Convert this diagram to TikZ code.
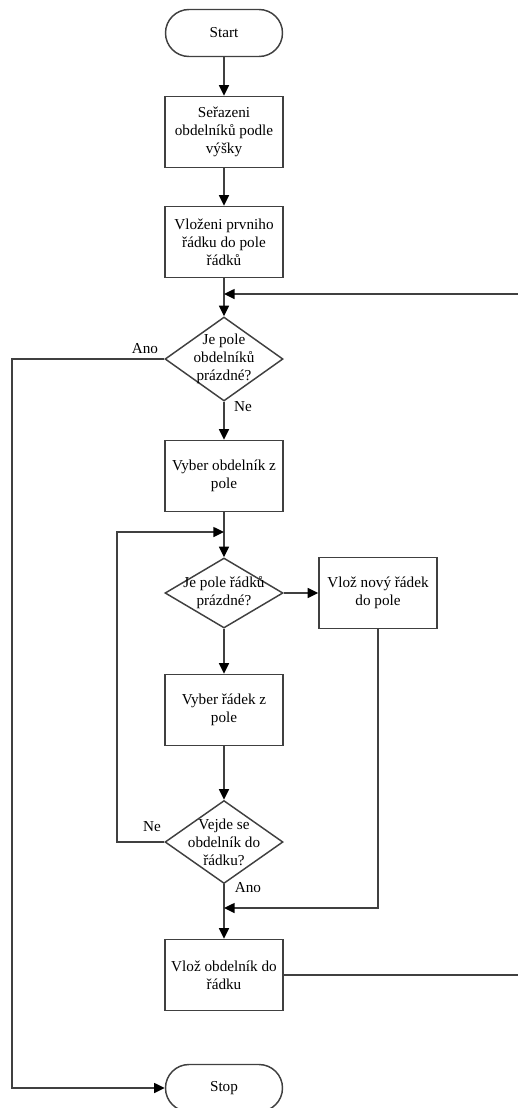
\documentclass[tikz,border=0pt]{standalone}
\usepackage{fontspec}
\setmainfont{Liberation Serif}
\usetikzlibrary{shapes.geometric,arrows.meta}

\begin{document}
\begin{tikzpicture}[x=0.75pt,y=0.75pt]
        \tikzstyle{every node}+=[inner sep=0pt, font=\fontsize{11.4}{13.5}\selectfont]
        \tikzstyle{term}=[draw=black!75, line width=1.1pt, minimum width=87.75pt, minimum height=35.25pt, rounded corners=17.6pt]
        \tikzstyle{box}=[draw=black!75, line width=1.1pt, minimum width=88.5pt, minimum height=53.25pt, align=center]
        \tikzstyle{dec}=[diamond, draw=black!75, line width=1.1pt, minimum width=88.5pt]
        \tikzstyle{line}=[draw=black!75, line width=1.1pt]
        \tikzstyle{arr}=[line, -{Triangle[length=8pt,width=7.5pt,color=black]}]
        \useasboundingbox (0,0) rectangle (518,-1108);
        \node [term] (start) at (224,-33) {Start};
        \node [box] (sort) at (224,-132) {Seřazeni\\obdelníků podle\\výšky};
        \node [box] (first) at (224,-242) {Vloženi prvniho\\řádku do pole\\řádků};
        \node [dec, minimum height=63pt, label={[align=center]center:Je pole\\obdelníků\\prázdné?}] (empty1) at (224,-359) {};
        \node [box] (pickrect) at (224,-476) {Vyber obdelník z\\pole};
        \node [dec, minimum height=52.5pt, label={[align=center]center:Je pole řádků\\prázdné?}] (empty2) at (224,-593) {};
        \node [box] (newrow) at (378,-593) {Vlož nový řádek\\do pole};
        \node [box] (pickrow) at (224,-710) {Vyber řádek z\\pole};
        \node [dec, minimum height=62.25pt, label={[align=center]center:Vejde se\\obdelník do\\řádku?}] (fits) at (224,-842) {};
        \node [box] (insert) at (224,-975) {Vlož obdelník do\\řádku};
        \node [term] (stop) at (224,-1088) {Stop};
        % labels
        \node (ano1) at (145,-349) {Ano};
        \node (ne1) at (243,-407) {Ne};
        \node (ne2) at (152,-827) {Ne};
        \node (ano2) at (248,-888) {Ano};
        % joints
        \coordinate (r1) at (518,-294);
        \coordinate (j1) at (224,-294);
        \coordinate (r2) at (518,-975);
        \coordinate (cl) at (12,-359);
        \coordinate (cn) at (117,-842);
        \coordinate (j2) at (224,-532);
        \coordinate (j3) at (224,-908);
        \draw [arr] (start.south) -- (sort.north);
        \draw [arr] (sort.south) -- (first.north);
        \draw [arr] (first.south) -- (empty1.north);
        \draw [arr] (r1) -- (j1);
        \draw [arr] (empty1.west) -- (cl) |- (stop.west);
        \draw [arr] (empty1.south) -- (pickrect.north);
        \draw [arr] (pickrect.south) -- (empty2.north);
        \draw [arr] (empty2.east) -- (newrow.west);
        \draw [arr] (empty2.south) -- (pickrow.north);
        \draw [arr] (pickrow.south) -- (fits.north);
        \draw [arr] (fits.west) -- (cn) |- (j2);
        \draw [arr] (fits.south) -- (insert.north);
        \draw [arr] (newrow.south) |- (j3);
        \draw [line] (insert.east) -- (r2);
\end{tikzpicture}
\end{document}
